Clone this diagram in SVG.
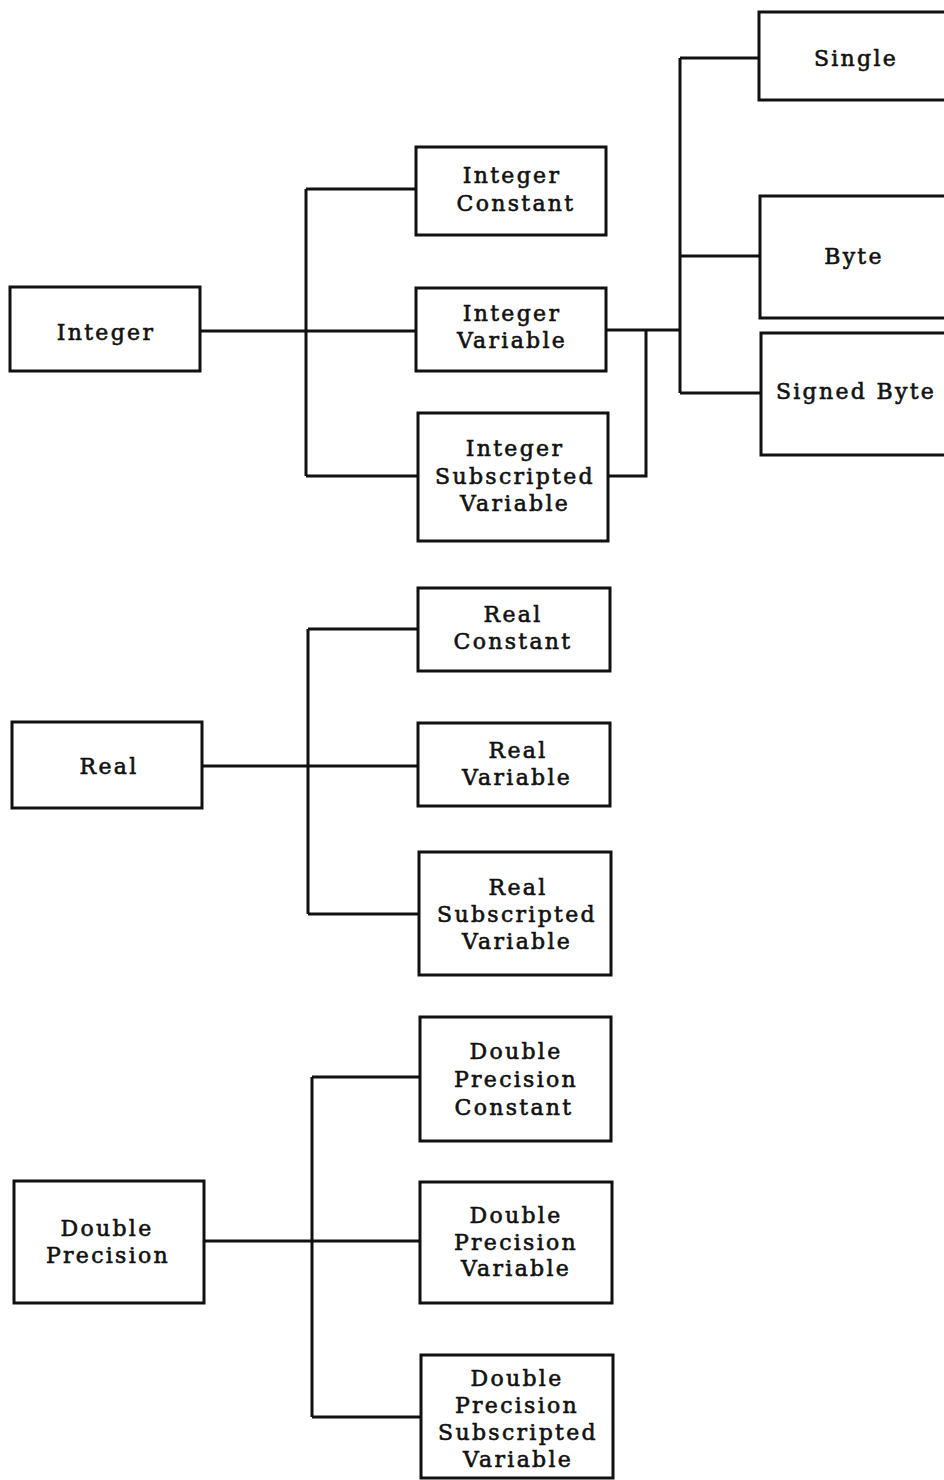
<svg xmlns="http://www.w3.org/2000/svg" width="944" height="1480" viewBox="0 0 944 1480">
<style>
.box{fill:#fff;stroke:#111;stroke-width:3}
.lbl{font-family:"DejaVu Serif","Liberation Serif",serif;font-size:22px;fill:#111;stroke:#111;stroke-width:0.6;text-anchor:middle;letter-spacing:2.3px}
.con{fill:none;stroke:#111;stroke-width:3}
</style>
<rect width="944" height="1480" fill="#fff"/>
<g id="connectors">
<path class="con" d="M200,331 H416 M306,189 V476 M306,189 H416 M306,476 H418"/>
<path class="con" d="M607,330 H680 M646,330 V476 H608 M680,58 V393 M680,58 H759 M680,256 H760 M680,393 H761"/>
<path class="con" d="M202,766 H418 M308,629 V914 M308,629 H418 M308,914 H419"/>
<path class="con" d="M204,1241 H420 M312,1077 V1417 M312,1077 H420 M312,1417 H421"/>
</g>
<g id="integer"><rect class="box" x="10" y="287" width="190" height="84"/><text class="lbl" x="106" y="340">Integer</text></g>
<g id="integer-constant"><rect class="box" x="416" y="147" width="190" height="88"/><text class="lbl" x="512" y="183">Integer</text><text class="lbl" x="516" y="211">Constant</text></g>
<g id="integer-variable"><rect class="box" x="416" y="288" width="190" height="83"/><text class="lbl" x="512" y="321">Integer</text><text class="lbl" x="512" y="348">Variable</text></g>
<g id="integer-subscripted-variable"><rect class="box" x="418" y="413" width="190" height="128"/><text class="lbl" x="515" y="456">Integer</text><text class="lbl" x="515" y="484">Subscripted</text><text class="lbl" x="515" y="511">Variable</text></g>
<g id="single"><rect class="box" x="759" y="12" width="200" height="88"/><text class="lbl" x="856" y="66">Single</text></g>
<g id="byte"><rect class="box" x="760" y="196" width="200" height="122"/><text class="lbl" x="854" y="264">Byte</text></g>
<g id="signed-byte"><rect class="box" x="761" y="333" width="200" height="122"/><text class="lbl" x="856" y="399">Signed Byte</text></g>
<g id="real"><rect class="box" x="12" y="722" width="190" height="86"/><text class="lbl" x="109" y="774">Real</text></g>
<g id="real-constant"><rect class="box" x="418" y="588" width="192" height="83"/><text class="lbl" x="513" y="622">Real</text><text class="lbl" x="513" y="649">Constant</text></g>
<g id="real-variable"><rect class="box" x="418" y="723" width="192" height="83"/><text class="lbl" x="518" y="758">Real</text><text class="lbl" x="517" y="785">Variable</text></g>
<g id="real-subscripted-variable"><rect class="box" x="419" y="852" width="192" height="123"/><text class="lbl" x="518" y="895">Real</text><text class="lbl" x="517" y="922">Subscripted</text><text class="lbl" x="517" y="949">Variable</text></g>
<g id="double-precision"><rect class="box" x="14" y="1181" width="190" height="122"/><text class="lbl" x="107" y="1236">Double</text><text class="lbl" x="108" y="1263">Precision</text></g>
<g id="double-precision-constant"><rect class="box" x="420" y="1017" width="191" height="124"/><text class="lbl" x="516" y="1059">Double</text><text class="lbl" x="516" y="1087">Precision</text><text class="lbl" x="514" y="1115">Constant</text></g>
<g id="double-precision-variable"><rect class="box" x="420" y="1182" width="192" height="121"/><text class="lbl" x="516" y="1223">Double</text><text class="lbl" x="516" y="1250">Precision</text><text class="lbl" x="516" y="1276">Variable</text></g>
<g id="double-precision-subscripted-variable"><rect class="box" x="421" y="1355" width="192" height="123"/><text class="lbl" x="517" y="1386">Double</text><text class="lbl" x="517" y="1413">Precision</text><text class="lbl" x="518" y="1440">Subscripted</text><text class="lbl" x="518" y="1467">Variable</text></g>
</svg>
